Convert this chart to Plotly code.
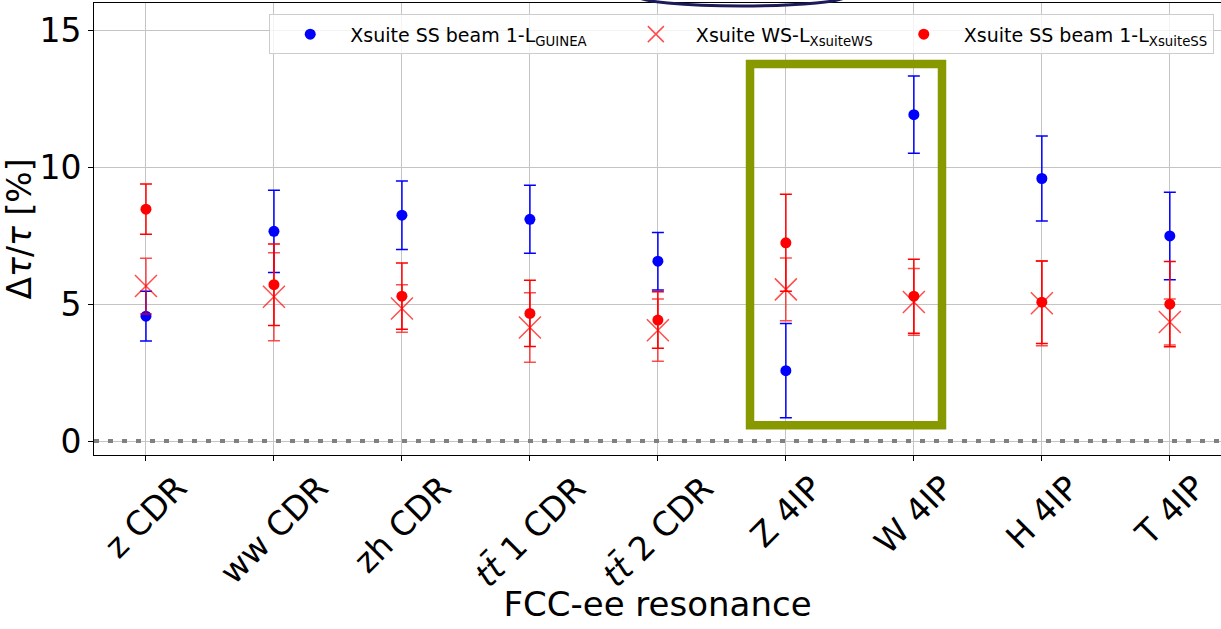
import plotly.graph_objects as go

categories = ["z CDR", "ww CDR", "zh CDR", "tt̄ 1 CDR", "tt̄ 2 CDR", "Z 4IP", "W 4IP", "H 4IP", "T 4IP"]
tick_labels = ["z CDR", "ww CDR", "zh CDR", "<i>tt̄</i> 1 CDR", "<i>tt̄</i> 2 CDR", "Z 4IP", "W 4IP", "H 4IP", "T 4IP"]

guinea = [4.56, 7.66, 8.25, 8.10, 6.57, 2.57, 11.92, 9.59, 7.49]
guinea_err = [0.91, 1.50, 1.25, 1.24, 1.05, 1.72, 1.41, 1.55, 1.60]

ws = [5.66, 5.27, 4.84, 4.15, 4.05, 5.54, 5.08, 5.03, 4.35]
ws_err = [1.02, 1.61, 0.87, 1.27, 1.14, 1.15, 1.22, 1.55, 0.84]

ss = [8.47, 5.71, 5.29, 4.66, 4.42, 7.24, 5.29, 5.07, 5.00]
ss_err = [0.92, 1.49, 1.21, 1.21, 1.03, 1.77, 1.35, 1.51, 1.56]

FONT = "DejaVu Sans"
WS_RED = "rgba(255,0,0,0.7)"
NB = "\u00a0"

fig = go.Figure()
fig.add_trace(go.Scatter(
    x=categories, y=guinea, mode="markers",
    name="Xsuite SS beam 1-L<sub>GUINEA</sub>" + NB * 4,
    marker=dict(symbol="circle", size=11, color="#0000ff"),
    error_y=dict(type="data", array=guinea_err, color="#0000ff", thickness=1.5, width=6),
))
fig.add_trace(go.Scatter(
    x=categories, y=ws, mode="markers",
    name="Xsuite WS-L<sub>XsuiteWS</sub>" + NB * 1,
    marker=dict(symbol="x-thin", size=22, color=WS_RED, line=dict(color=WS_RED, width=1.5)),
    error_y=dict(type="data", array=ws_err, color=WS_RED, thickness=1.5, width=6),
))
fig.add_trace(go.Scatter(
    x=categories, y=ss, mode="markers",
    name="Xsuite SS beam 1-L<sub>XsuiteSS</sub>",
    marker=dict(symbol="circle", size=11, color="#ff0000"),
    error_y=dict(type="data", array=ss_err, color="#ff0000", thickness=1.5, width=6),
))

# zero reference line
fig.add_shape(type="line", xref="paper", x0=0, x1=1, yref="y", y0=0, y1=0,
              line=dict(color="#808080", width=4, dash="5px,9px"), layer="above")
# highlight box
fig.add_shape(type="rect", xref="x", yref="y", x0=4.72, x1=6.22, y0=0.58, y1=13.77,
              line=dict(color="#889900", width=8.5), fillcolor="rgba(0,0,0,0)", layer="above")
# partial ellipse at top
fig.add_shape(type="circle", xref="paper", yref="paper", x0=0.4818, x1=0.6681, y0=0.9934, y1=1.0376,
              line=dict(color="#1b1b5a", width=3), layer="above")

# rotated category labels
for c, t in zip(categories, tick_labels):
    fig.add_annotation(x=c, xref="x", y=0, yref="paper", text=t, textangle=-45,
                       showarrow=False, xanchor="center", yanchor="top", yshift=-10,
                       font=dict(family=FONT, size=33, color="black"))

fig.update_layout(
    width=1221, height=629,
    margin=dict(l=94, r=0, t=3, b=174),
    paper_bgcolor="white", plot_bgcolor="white",
    font=dict(family=FONT, color="black"),
    showlegend=True,
    legend=dict(orientation="h", x=0.994, xanchor="right", y=0.975, yanchor="top",
                bgcolor="rgba(255,255,255,0.8)", bordercolor="#cccccc", borderwidth=1,
                font=dict(family=FONT, size=19, color="black"), itemwidth=70),
    xaxis=dict(
        categoryorder="array", categoryarray=categories,
        range=[-0.406, 8.4], showgrid=True, gridcolor="#c4c4c4", gridwidth=1,
        showline=True, linecolor="black", linewidth=1, mirror=True,
        ticks="outside", ticklen=5, tickcolor="black", showticklabels=False,
        zeroline=False,
        title=dict(text="FCC-ee resonance", font=dict(family=FONT, size=34), standoff=132),
    ),
    yaxis=dict(
        range=[-0.51, 16.0], tickvals=[0, 5, 10, 15], showgrid=True, gridcolor="#c4c4c4", gridwidth=1,
        showline=True, linecolor="black", linewidth=1, mirror=False,
        ticks="outside", ticklen=5, tickcolor="black",
        tickfont=dict(family=FONT, size=33), zeroline=False,
        title=dict(text="Δ<i>τ</i>/<i>τ</i> [%]", font=dict(family=FONT, size=33), standoff=12),
    ),
)

fig.write_html("out.html")
